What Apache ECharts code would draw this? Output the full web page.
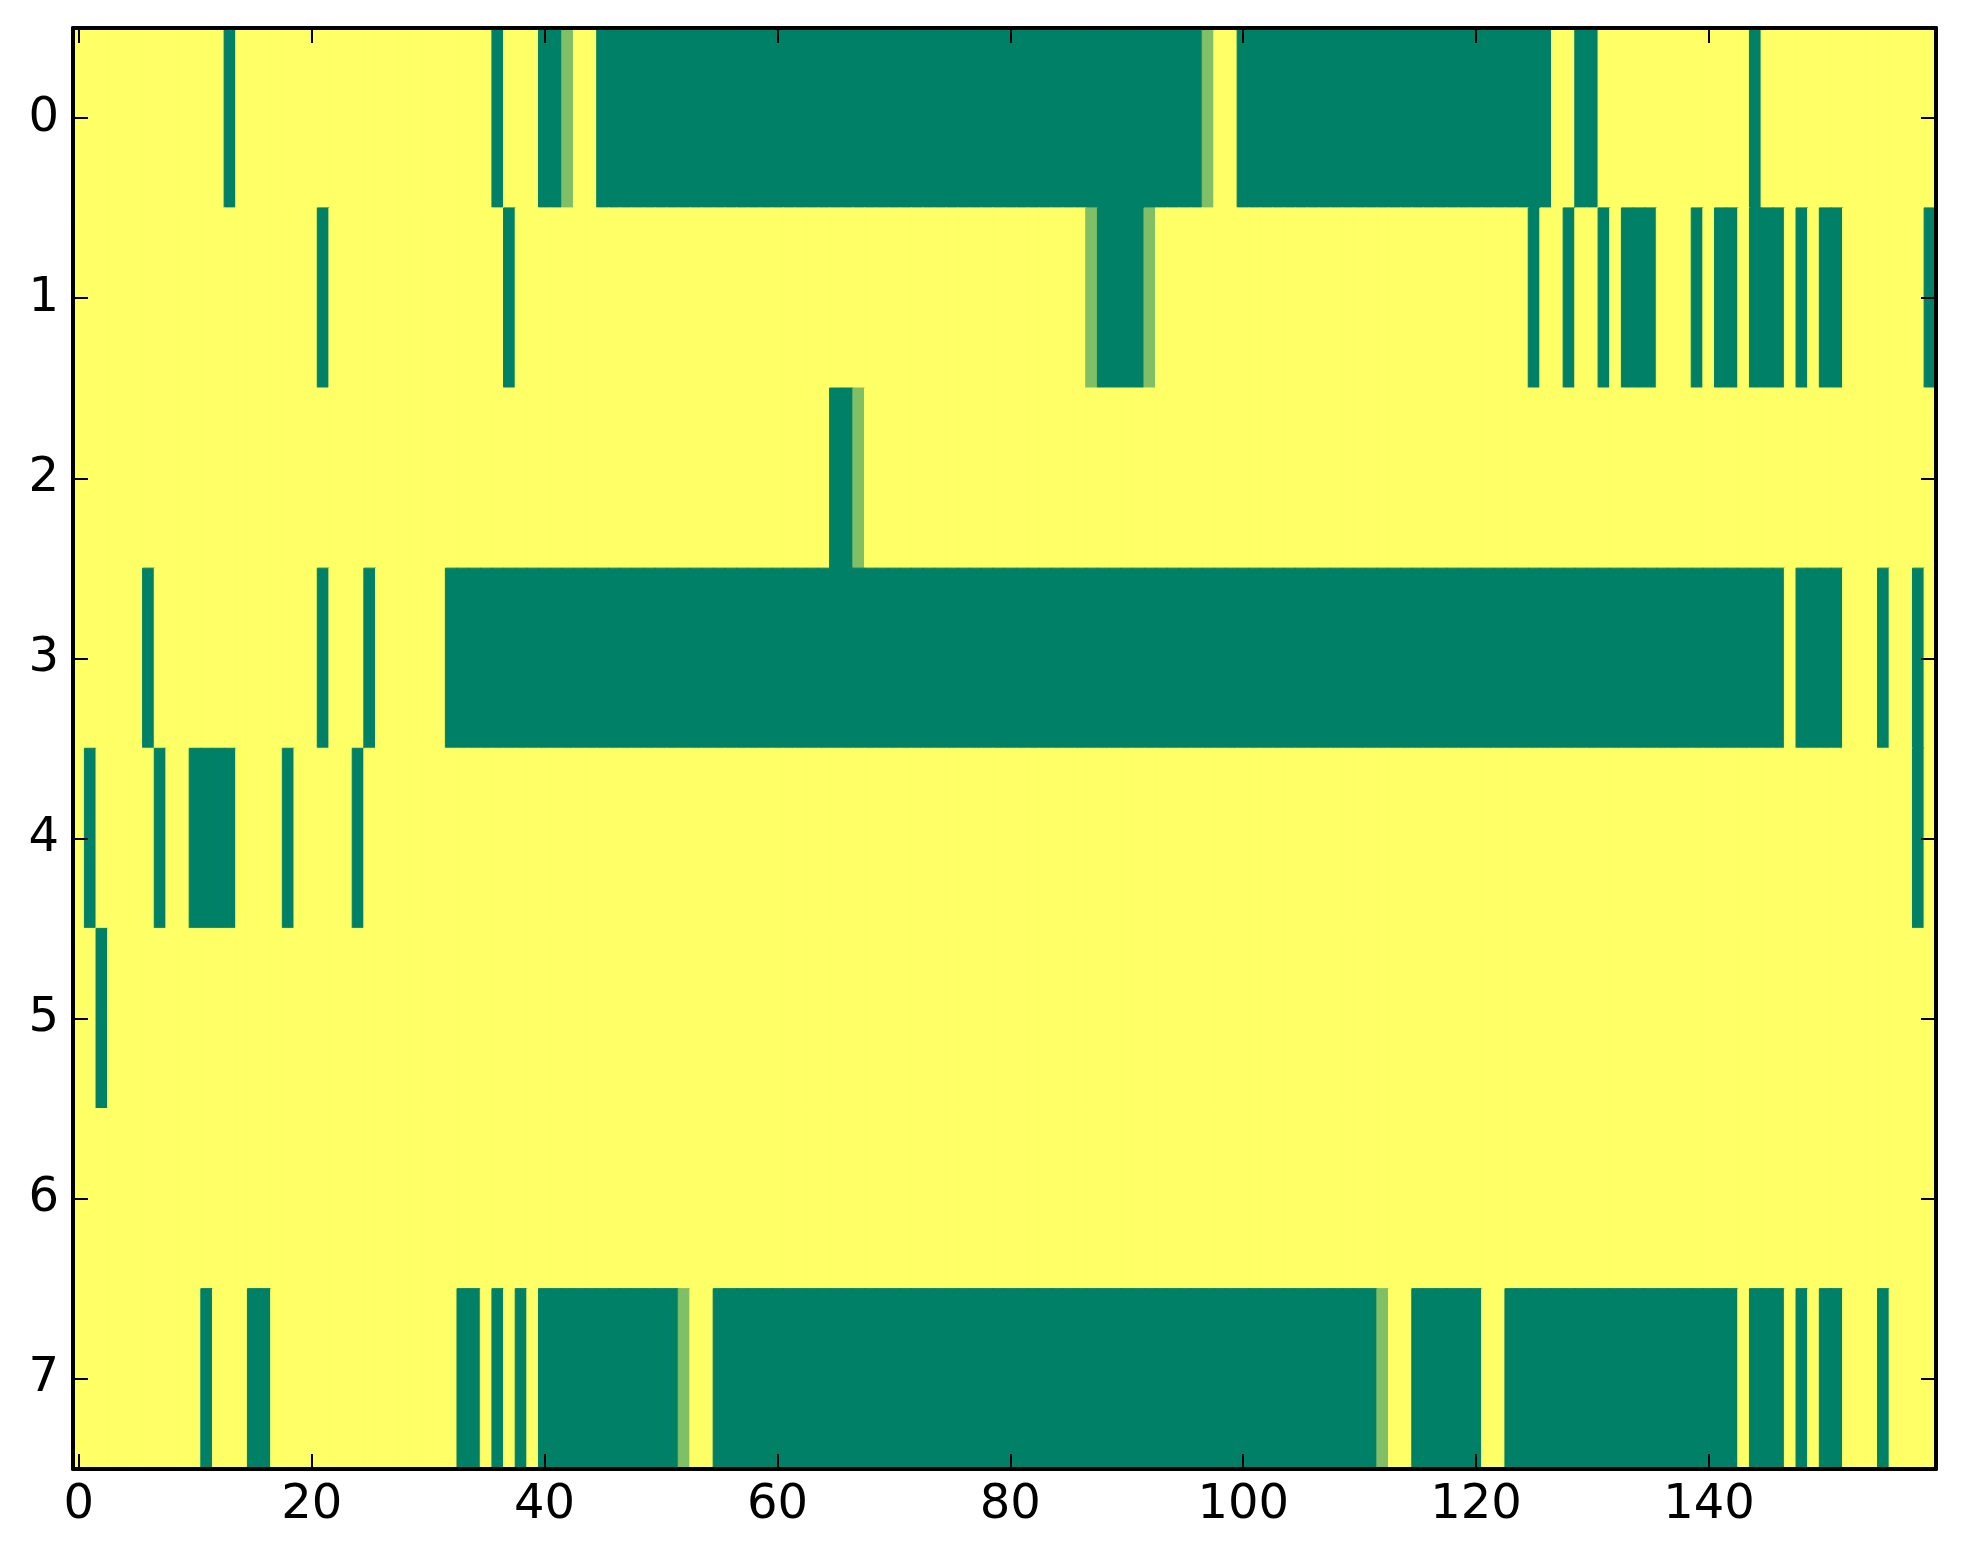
<!DOCTYPE html>
<html>
<head>
<meta charset="utf-8">
<script src="https://cdn.jsdelivr.net/npm/echarts@6/dist/echarts.min.js"></script>
<style>
html,body{margin:0;padding:0;background:#fff;}
#chart{width:1963px;height:1564px;}
</style>
</head>
<body>
<div id="chart"></div>
<script>
// Column indices (0..159) and row indices (0..7)
var xCategories = [];
for (var c = 0; c < 160; c++) xCategories.push(String(c));
var yCategories = ['0','1','2','3','4','5','6','7'];
var xTickLabels = ['0','20','40','60','80','100','120','140'];

// Cell values per row (1 = yellow, 0 = dark green, 0.5 = mid green)
var row0 = [
 1,1,1,1,1,1,1,1,1,1, 1,1,1,0,1,1,1,1,1,1,
 1,1,1,1,1,1,1,1,1,1, 1,1,1,1,1,1,0,1,1,1,
 0,0,0.5,1,1,0,0,0,0,0, 0,0,0,0,0,0,0,0,0,0,
 0,0,0,0,0,0,0,0,0,0, 0,0,0,0,0,0,0,0,0,0,
 0,0,0,0,0,0,0,0,0,0, 0,0,0,0,0,0,0,0.5,1,1,
 0,0,0,0,0,0,0,0,0,0, 0,0,0,0,0,0,0,0,0,0,
 0,0,0,0,0,0,0,1,1,0, 0,1,1,1,1,1,1,1,1,1,
 1,1,1,1,0,1,1,1,1,1, 1,1,1,1,1,1,1,1,1,1
];
var row1 = [
 1,1,1,1,1,1,1,1,1,1, 1,1,1,1,1,1,1,1,1,1,
 1,0,1,1,1,1,1,1,1,1, 1,1,1,1,1,1,1,0,1,1,
 1,1,1,1,1,1,1,1,1,1, 1,1,1,1,1,1,1,1,1,1,
 1,1,1,1,1,1,1,1,1,1, 1,1,1,1,1,1,1,1,1,1,
 1,1,1,1,1,1,1,0.5,0,0, 0,0,0.5,1,1,1,1,1,1,1,
 1,1,1,1,1,1,1,1,1,1, 1,1,1,1,1,1,1,1,1,1,
 1,1,1,1,1,0,1,1,0,1, 1,0,1,0,0,0,1,1,1,0,
 1,0,0,1,0,0,0,1,0,1, 0,0,1,1,1,1,1,1,1,0
];
var row2 = [
 1,1,1,1,1,1,1,1,1,1, 1,1,1,1,1,1,1,1,1,1,
 1,1,1,1,1,1,1,1,1,1, 1,1,1,1,1,1,1,1,1,1,
 1,1,1,1,1,1,1,1,1,1, 1,1,1,1,1,1,1,1,1,1,
 1,1,1,1,1,0,0,0.5,1,1, 1,1,1,1,1,1,1,1,1,1,
 1,1,1,1,1,1,1,1,1,1, 1,1,1,1,1,1,1,1,1,1,
 1,1,1,1,1,1,1,1,1,1, 1,1,1,1,1,1,1,1,1,1,
 1,1,1,1,1,1,1,1,1,1, 1,1,1,1,1,1,1,1,1,1,
 1,1,1,1,1,1,1,1,1,1, 1,1,1,1,1,1,1,1,1,1
];
var row3 = [
 1,1,1,1,1,1,0,1,1,1, 1,1,1,1,1,1,1,1,1,1,
 1,0,1,1,1,0,1,1,1,1, 1,1,0,0,0,0,0,0,0,0,
 0,0,0,0,0,0,0,0,0,0, 0,0,0,0,0,0,0,0,0,0,
 0,0,0,0,0,0,0,0,0,0, 0,0,0,0,0,0,0,0,0,0,
 0,0,0,0,0,0,0,0,0,0, 0,0,0,0,0,0,0,0,0,0,
 0,0,0,0,0,0,0,0,0,0, 0,0,0,0,0,0,0,0,0,0,
 0,0,0,0,0,0,0,0,0,0, 0,0,0,0,0,0,0,0,0,0,
 0,0,0,0,0,0,0,1,0,0, 0,0,1,1,1,0,1,1,0,1
];
var row4 = [
 1,0,1,1,1,1,1,0,1,1, 0,0,0,0,1,1,1,1,0,1,
 1,1,1,1,0,1,1,1,1,1, 1,1,1,1,1,1,1,1,1,1,
 1,1,1,1,1,1,1,1,1,1, 1,1,1,1,1,1,1,1,1,1,
 1,1,1,1,1,1,1,1,1,1, 1,1,1,1,1,1,1,1,1,1,
 1,1,1,1,1,1,1,1,1,1, 1,1,1,1,1,1,1,1,1,1,
 1,1,1,1,1,1,1,1,1,1, 1,1,1,1,1,1,1,1,1,1,
 1,1,1,1,1,1,1,1,1,1, 1,1,1,1,1,1,1,1,1,1,
 1,1,1,1,1,1,1,1,1,1, 1,1,1,1,1,1,1,1,0,1
];
var row5 = [
 1,1,0,1,1,1,1,1,1,1, 1,1,1,1,1,1,1,1,1,1,
 1,1,1,1,1,1,1,1,1,1, 1,1,1,1,1,1,1,1,1,1,
 1,1,1,1,1,1,1,1,1,1, 1,1,1,1,1,1,1,1,1,1,
 1,1,1,1,1,1,1,1,1,1, 1,1,1,1,1,1,1,1,1,1,
 1,1,1,1,1,1,1,1,1,1, 1,1,1,1,1,1,1,1,1,1,
 1,1,1,1,1,1,1,1,1,1, 1,1,1,1,1,1,1,1,1,1,
 1,1,1,1,1,1,1,1,1,1, 1,1,1,1,1,1,1,1,1,1,
 1,1,1,1,1,1,1,1,1,1, 1,1,1,1,1,1,1,1,1,1
];
var row6 = [
 1,1,1,1,1,1,1,1,1,1, 1,1,1,1,1,1,1,1,1,1,
 1,1,1,1,1,1,1,1,1,1, 1,1,1,1,1,1,1,1,1,1,
 1,1,1,1,1,1,1,1,1,1, 1,1,1,1,1,1,1,1,1,1,
 1,1,1,1,1,1,1,1,1,1, 1,1,1,1,1,1,1,1,1,1,
 1,1,1,1,1,1,1,1,1,1, 1,1,1,1,1,1,1,1,1,1,
 1,1,1,1,1,1,1,1,1,1, 1,1,1,1,1,1,1,1,1,1,
 1,1,1,1,1,1,1,1,1,1, 1,1,1,1,1,1,1,1,1,1,
 1,1,1,1,1,1,1,1,1,1, 1,1,1,1,1,1,1,1,1,1
];
var row7 = [
 1,1,1,1,1,1,1,1,1,1, 1,0,1,1,1,0,0,1,1,1,
 1,1,1,1,1,1,1,1,1,1, 1,1,1,0,0,1,0,1,0,1,
 0,0,0,0,0,0,0,0,0,0, 0,0,0.5,1,1,0,0,0,0,0,
 0,0,0,0,0,0,0,0,0,0, 0,0,0,0,0,0,0,0,0,0,
 0,0,0,0,0,0,0,0,0,0, 0,0,0,0,0,0,0,0,0,0,
 0,0,0,0,0,0,0,0,0,0, 0,0,0.5,1,1,0,0,0,0,0,
 0,1,1,0,0,0,0,0,0,0, 0,0,0,0,0,0,0,0,0,0,
 0,0,0,1,0,0,0,1,0,1, 0,0,1,1,1,0,1,1,1,1
];

var rows = [row0, row1, row2, row3, row4, row5, row6, row7];

// matplotlib "summer" colormap: v -> (v, 0.5 + 0.5 v, 0.4)
function summer(v) {
  var r = Math.round(255 * v);
  var g = Math.round(255 * (0.5 + 0.5 * v));
  var b = Math.round(255 * 0.4);
  return 'rgb(' + r + ',' + g + ',' + b + ')';
}

var cells = [];
for (var r = 0; r < rows.length; r++) {
  for (var i = 0; i < rows[r].length; i++) {
    var col = summer(rows[r][i]);
    cells.push({
      value: [i, r, rows[r][i]],
      itemStyle: {color: col, borderColor: col, borderWidth: 1}
    });
  }
}

var FONT = 'DejaVu Sans';
var showX = function (idx) { return xTickLabels.indexOf(String(idx)) >= 0; };
var tickStyle = {show: true, inside: true, length: 15, alignWithLabel: true, lineStyle: {color: '#000', width: 2}};
var lineStyle = {show: true, onZero: false, lineStyle: {color: '#000', width: 4}};

var chart = echarts.init(document.getElementById('chart'), null, {renderer: 'canvas'});
chart.setOption({
  animation: false,
  backgroundColor: '#ffffff',
  grid: {left: 73, right: 27, top: 28, bottom: 95, containLabel: false},
  xAxis: [
    {
      type: 'category', data: xCategories, position: 'bottom', z: 10,
      axisLine: lineStyle,
      axisTick: Object.assign({}, tickStyle, {interval: function (idx) { return showX(idx); }}),
      axisLabel: {interval: function (idx) { return showX(idx); }, color: '#000', fontFamily: FONT, fontSize: 48, margin: 13},
      splitLine: {show: false}
    },
    {
      type: 'category', data: xCategories, position: 'top', z: 10,
      axisLine: lineStyle,
      axisTick: Object.assign({}, tickStyle, {interval: function (idx) { return showX(idx); }}),
      axisLabel: {show: false},
      splitLine: {show: false}
    }
  ],
  yAxis: [
    {
      type: 'category', data: yCategories, inverse: true, position: 'left', z: 10,
      axisLine: lineStyle,
      axisTick: Object.assign({}, tickStyle, {interval: 0}),
      axisLabel: {interval: 0, color: '#000', fontFamily: FONT, fontSize: 48, margin: 14},
      splitLine: {show: false}
    },
    {
      type: 'category', data: yCategories, inverse: true, position: 'right', z: 10,
      axisLine: lineStyle,
      axisTick: Object.assign({}, tickStyle, {interval: 0}),
      axisLabel: {show: false},
      splitLine: {show: false}
    }
  ],
  series: [{
    type: 'heatmap',
    xAxisIndex: 0, yAxisIndex: 0,
    data: cells,
    progressive: 0,
    emphasis: {disabled: true}
  }]
});
</script>
</body>
</html>
